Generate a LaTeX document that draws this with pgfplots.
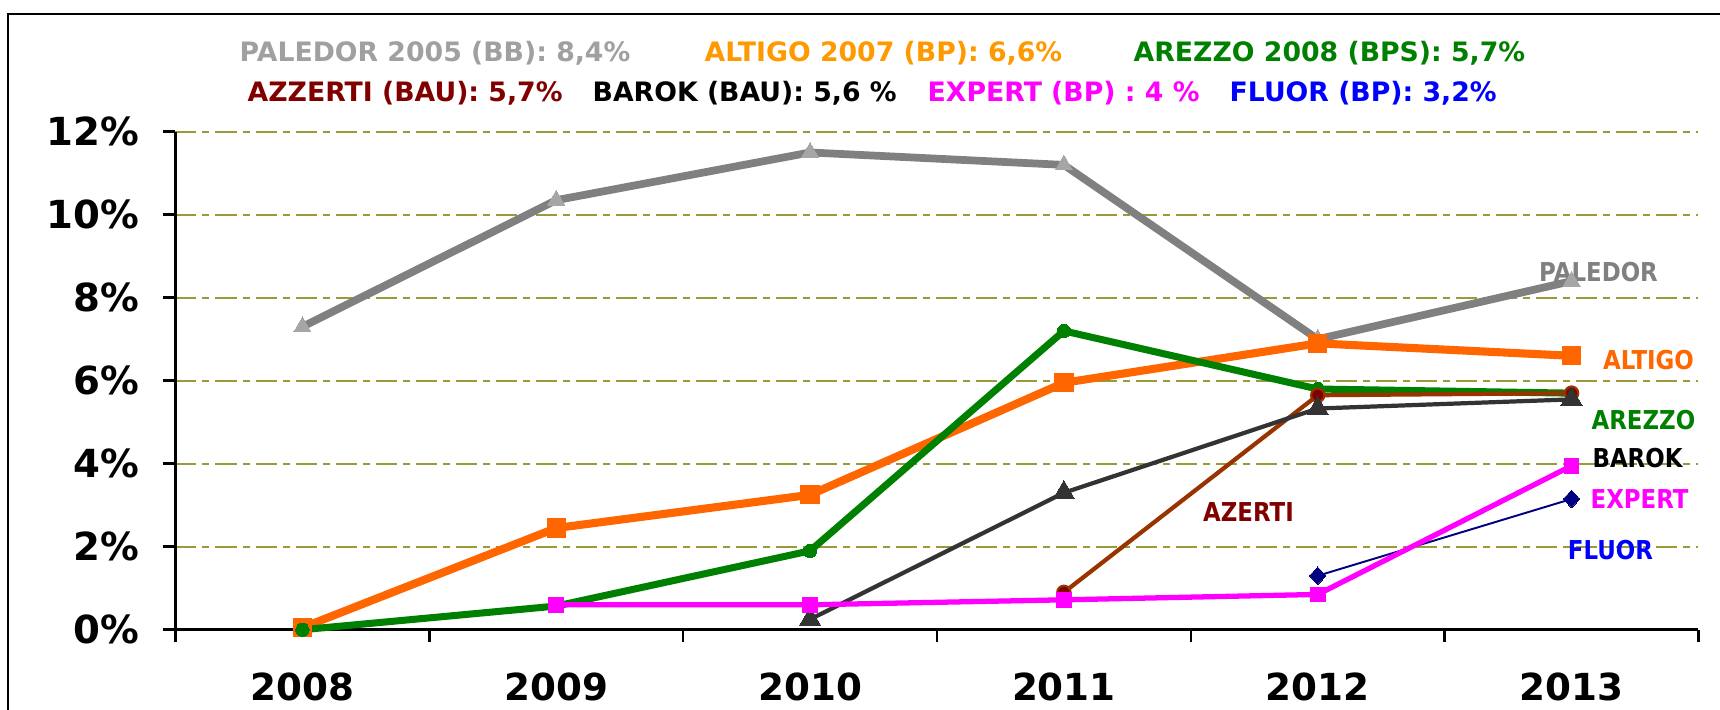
\documentclass[border=0pt]{standalone}
\usepackage{fontspec}
\setmainfont{DejaVu Sans}
\newfontfamily\labelfont{DejaVu Sans}[FakeStretch=0.88]
\usepackage{pgfplots}
\pgfplotsset{compat=1.18}
\definecolor{palgray}{HTML}{808080}
\definecolor{palmark}{HTML}{A6A6A6}
\definecolor{palhead}{HTML}{A0A0A0}
\definecolor{altline}{HTML}{FF6600}
\definecolor{althead}{HTML}{FF9900}
\definecolor{arzgreen}{HTML}{008000}
\definecolor{azline}{HTML}{993300}
\definecolor{azmark}{HTML}{800000}
\definecolor{barok}{HTML}{333333}
\definecolor{expert}{HTML}{FF00FF}
\definecolor{fluorline}{HTML}{000080}
\definecolor{fluorhead}{HTML}{0000FF}
\definecolor{gridolive}{HTML}{9A9A38}

\begin{document}
\begin{tikzpicture}
\useasboundingbox (0,0) rectangle (172mm,70.9mm);
\draw[line width=0.6pt] (0.8mm,-5mm) -- (0.8mm,69.5mm) -- (180mm,69.5mm);

% header lines
\begin{scope}[every node/.style={inner sep=0pt,anchor=base west,font=\fontsize{7.6}{9}\selectfont\bfseries}]
\node[text=palhead] at (23.9mm,64.8mm) {PALEDOR 2005 (BB): 8,4\%};
\node[text=althead] at (70.4mm,64.8mm) {ALTIGO 2007 (BP): 6,6\%};
\node[text=arzgreen] at (113.3mm,64.8mm) {AREZZO 2008 (BPS): 5,7\%};
\node[text=azmark] at (24.7mm,60.8mm) {AZZERTI (BAU): 5,7\%};
\node[text=black] at (59.2mm,60.8mm) {BAROK (BAU): 5,6 \%};
\node[text=expert] at (92.7mm,60.8mm) {EXPERT (BP) : 4 \%};
\node[text=fluorhead] at (122.9mm,60.8mm) {FLUOR (BP): 3,2\%};
\end{scope}

\begin{axis}[
  at={(17.55mm,7.93mm)},anchor=south west,
  scale only axis,width=152.3mm,height=49.8mm,
  xmin=-0.5,xmax=5.5,ymin=0,ymax=12,
  axis x line=bottom,axis y line=left,
  axis line style={line width=0.7pt,-},
  xtick={-0.5,0.5,1.5,2.5,3.5,4.5,5.5},
  x tick label as interval,
  xticklabels={2008,2009,2010,2011,2012,2013},
  ytick={0,2,4,6,8,10,12},
  yticklabel={\pgfmathprintnumber{\tick}\%},
  /pgf/number format/assume math mode=true,
  tick align=outside,major tick length=1.2mm,
  tick style={black,line width=0.7pt},
  xticklabel style={font=\fontsize{10.6}{12}\selectfont\bfseries,yshift=-1.9mm},
  yticklabel style={font=\fontsize{11}{12}\selectfont\bfseries,xshift=-1.2mm},
  ymajorgrids,
  major grid style={color=gridolive,line width=0.45pt,dash pattern=on 2.1mm off 0.6mm on 0.7mm off 0.6mm},
  clip=false
]
\addplot[color=palgray,line width=2.2pt,mark=triangle*,mark size=2.8pt,mark options={fill=palmark,draw=palmark,line width=0pt}]
  coordinates {(0,7.3) (1,10.35) (2,11.5) (3,11.2) (4,7.0) (5,8.4)};
\addplot[color=altline,line width=2.3pt,mark=square*,mark size=2.6pt,mark options={fill=altline,draw=altline,line width=0pt}]
  coordinates {(0,0.05) (1,2.45) (2,3.25) (3,5.95) (4,6.9) (5,6.6)};
\addplot[color=arzgreen,line width=2pt,mark=*,mark size=1.9pt,mark options={fill=arzgreen,draw=arzgreen,line width=0pt}]
  coordinates {(0,0.0) (1,0.57) (2,1.9) (3,7.2) (4,5.8) (5,5.7)};
\addplot[color=azline,line width=1.2pt,mark=*,mark size=1.9pt,mark options={fill=azmark,draw=azline,line width=0.6pt}]
  coordinates {(3,0.9) (4,5.65) (5,5.7)};
\addplot[color=barok,line width=1.2pt,mark=triangle*,mark size=3.5pt,mark options={fill=barok,draw=barok,line width=0pt}]
  coordinates {(2,0.25) (3,3.3) (4,5.33) (5,5.55)};
\addplot[color=fluorline,line width=0.55pt,mark=diamond*,mark size=2.5pt,mark options={fill=fluorline,draw=fluorline,line width=0pt,xscale=1.25}]
  coordinates {(4,1.3) (5,3.15)};
\addplot[color=expert,line width=1.5pt,mark=square*,mark size=2.1pt,mark options={fill=expert,draw=expert,line width=0pt}]
  coordinates {(1,0.6) (2,0.6) (3,0.72) (4,0.85) (5,3.95)};

\begin{scope}[every node/.style={inner sep=0pt,font=\labelfont\fontsize{7.4}{8}\selectfont\bfseries}]
\node[text=palgray] at (axis cs:5.106,8.61) {PALEDOR};
\node[text=altline] at (axis cs:5.303,6.50) {ALTIGO};
\node[text=arzgreen] at (axis cs:5.283,5.05) {AREZZO};
\node[text=black] at (axis cs:5.260,4.14) {BAROK};
\node[text=expert] at (axis cs:5.268,3.15) {EXPERT};
\node[text=fluorhead] at (axis cs:5.153,1.92) {FLUOR};
\node[text=azmark] at (axis cs:3.727,2.84) {AZERTI};
\end{scope}
\end{axis}
\end{tikzpicture}
\end{document}
